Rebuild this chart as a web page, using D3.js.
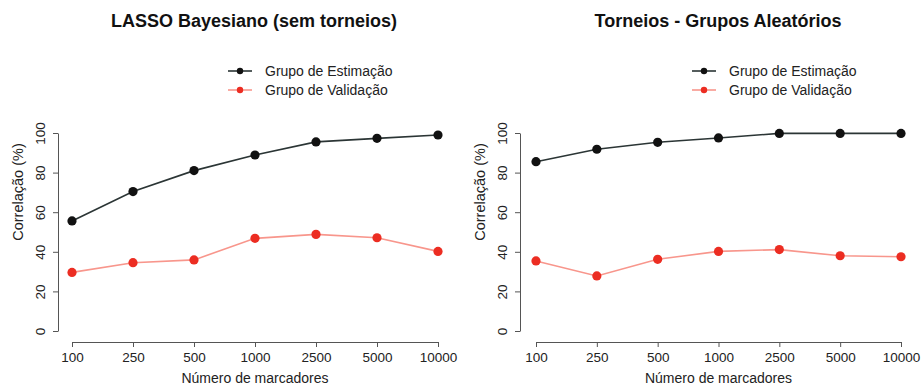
<!DOCTYPE html>
<html>
<head>
<meta charset="utf-8">
<script src="https://cdn.jsdelivr.net/npm/d3@7"></script>
<style>
  body { margin: 0; background: #fff; }
  svg { font-family: "Liberation Sans", Arial, Helvetica, sans-serif; }
</style>
</head>
<body>
<div id="graf"></div>
<script>
// Dados
const marcadores = ["100", "250", "500", "1000", "2500", "5000", "10000"]
const yTicks = [0, 20, 40, 60, 80, 100]

const lassoEstimacao = [55.6, 70.4, 81.0, 88.9, 95.5, 97.3, 99.0]
const lassoValidacao = [29.6, 34.5, 35.9, 46.8, 48.8, 47.1, 40.2]

const torneiosEstimacao = [85.5, 91.8, 95.3, 97.5, 99.8, 99.8, 99.8]
const torneiosValidacao = [35.4, 27.8, 36.2, 40.2, 41.1, 38.0, 37.5]

const legendas = ["Grupo de Estimação", "Grupo de Validação"]

const corPreto = "#111"
const corLinhaPreta = "#2b3535"
const corVermelho = "#ec2d22"
const corLinhaVermelha = "#f8968c"
const corEixo = "#555"

const svg = d3.select("#graf")
  .append("svg")
  .attr("width", 923)
  .attr("height", 389)

// Desenha um painel
const painel = (opts) => {
  const g = svg.append("g")

  const x = d3.scalePoint()
    .domain(marcadores)
    .range([opts.x0, opts.x1])
    .padding(0)

  const y = d3.scaleLinear()
    .domain([0, 100])
    .range([331, 133])

  // Eixo Y
  const yAxis = g.append("g")
    .attr("transform", `translate(${opts.axisX}, 0)`)
    .call(d3.axisLeft(y).tickValues(yTicks).tickSize(5).tickSizeOuter(0))
    .attr("font-family", null)

  yAxis.selectAll("text")
    .attr("transform", "rotate(-90)")
    .attr("x", 0)
    .attr("y", -18)
    .attr("dy", "0.36em")
    .attr("text-anchor", "middle")

  // Eixo X
  const xAxis = g.append("g")
    .attr("transform", `translate(0, 342)`)
    .call(d3.axisBottom(x).tickSize(5).tickSizeOuter(0))
    .attr("font-family", null)

  xAxis.selectAll("text").attr("y", 10)

  g.selectAll(".domain, .tick line").attr("stroke", corEixo)
  g.selectAll(".tick text")
    .attr("fill", "#222")
    .style("font-size", "13.5px")

  // Titulos
  g.append("text")
    .attr("x", opts.tituloX)
    .attr("y", 27)
    .attr("text-anchor", "middle")
    .style("font-size", "18px")
    .style("font-weight", "bold")
    .attr("fill", "#111")
    .text(opts.titulo)

  g.append("text")
    .attr("x", (opts.x0 + opts.x1) / 2)
    .attr("y", 383)
    .attr("text-anchor", "middle")
    .style("font-size", "14px")
    .attr("fill", "#222")
    .text("Número de marcadores")

  g.append("text")
    .attr("transform", `translate(${opts.axisX - 40}, 192) rotate(-90)`)
    .attr("text-anchor", "middle")
    .attr("dy", "0.36em")
    .style("font-size", "14.5px")
    .attr("fill", "#222")
    .text("Correlação (%)")

  // Series
  const series = [
    { valores: opts.estimacao, linha: corLinhaPreta, ponto: corPreto },
    { valores: opts.validacao, linha: corLinhaVermelha, ponto: corVermelho }
  ]

  const line = d3.line()
    .x((d, i) => x(marcadores[i]))
    .y((d) => y(d))

  series.forEach((s) => {
    g.append("path")
      .datum(s.valores)
      .attr("fill", "none")
      .attr("stroke", s.linha)
      .attr("stroke-width", 1.6)
      .attr("d", line)

    g.selectAll(null)
      .data(s.valores)
      .join("circle")
      .attr("cx", (d, i) => x(marcadores[i]))
      .attr("cy", (d) => y(d))
      .attr("r", 4.6)
      .attr("fill", s.ponto)
  })

  // Legenda
  const leg = g.append("g")
    .attr("transform", `translate(${opts.legX}, 71)`)

  series.forEach((s, i) => {
    const row = leg.append("g").attr("transform", `translate(0, ${i * 19})`)
    row.append("line")
      .attr("x1", 0).attr("x2", 24)
      .attr("stroke", s.linha)
      .attr("stroke-width", 1.6)
    row.append("circle")
      .attr("cx", 12)
      .attr("r", 3.2)
      .attr("fill", s.ponto)
    row.append("text")
      .attr("x", 37)
      .attr("dy", "0.36em")
      .style("font-size", "14px")
      .attr("fill", "#222")
      .text(legendas[i])
  })
}

painel({
  titulo: "LASSO Bayesiano (sem torneios)",
  tituloX: 254,
  axisX: 58,
  x0: 72,
  x1: 438,
  legX: 228,
  estimacao: lassoEstimacao,
  validacao: lassoValidacao
})

painel({
  titulo: "Torneios - Grupos Aleatórios",
  tituloX: 718,
  axisX: 520,
  x0: 536,
  x1: 901,
  legX: 692,
  estimacao: torneiosEstimacao,
  validacao: torneiosValidacao
})
</script>
</body>
</html>
